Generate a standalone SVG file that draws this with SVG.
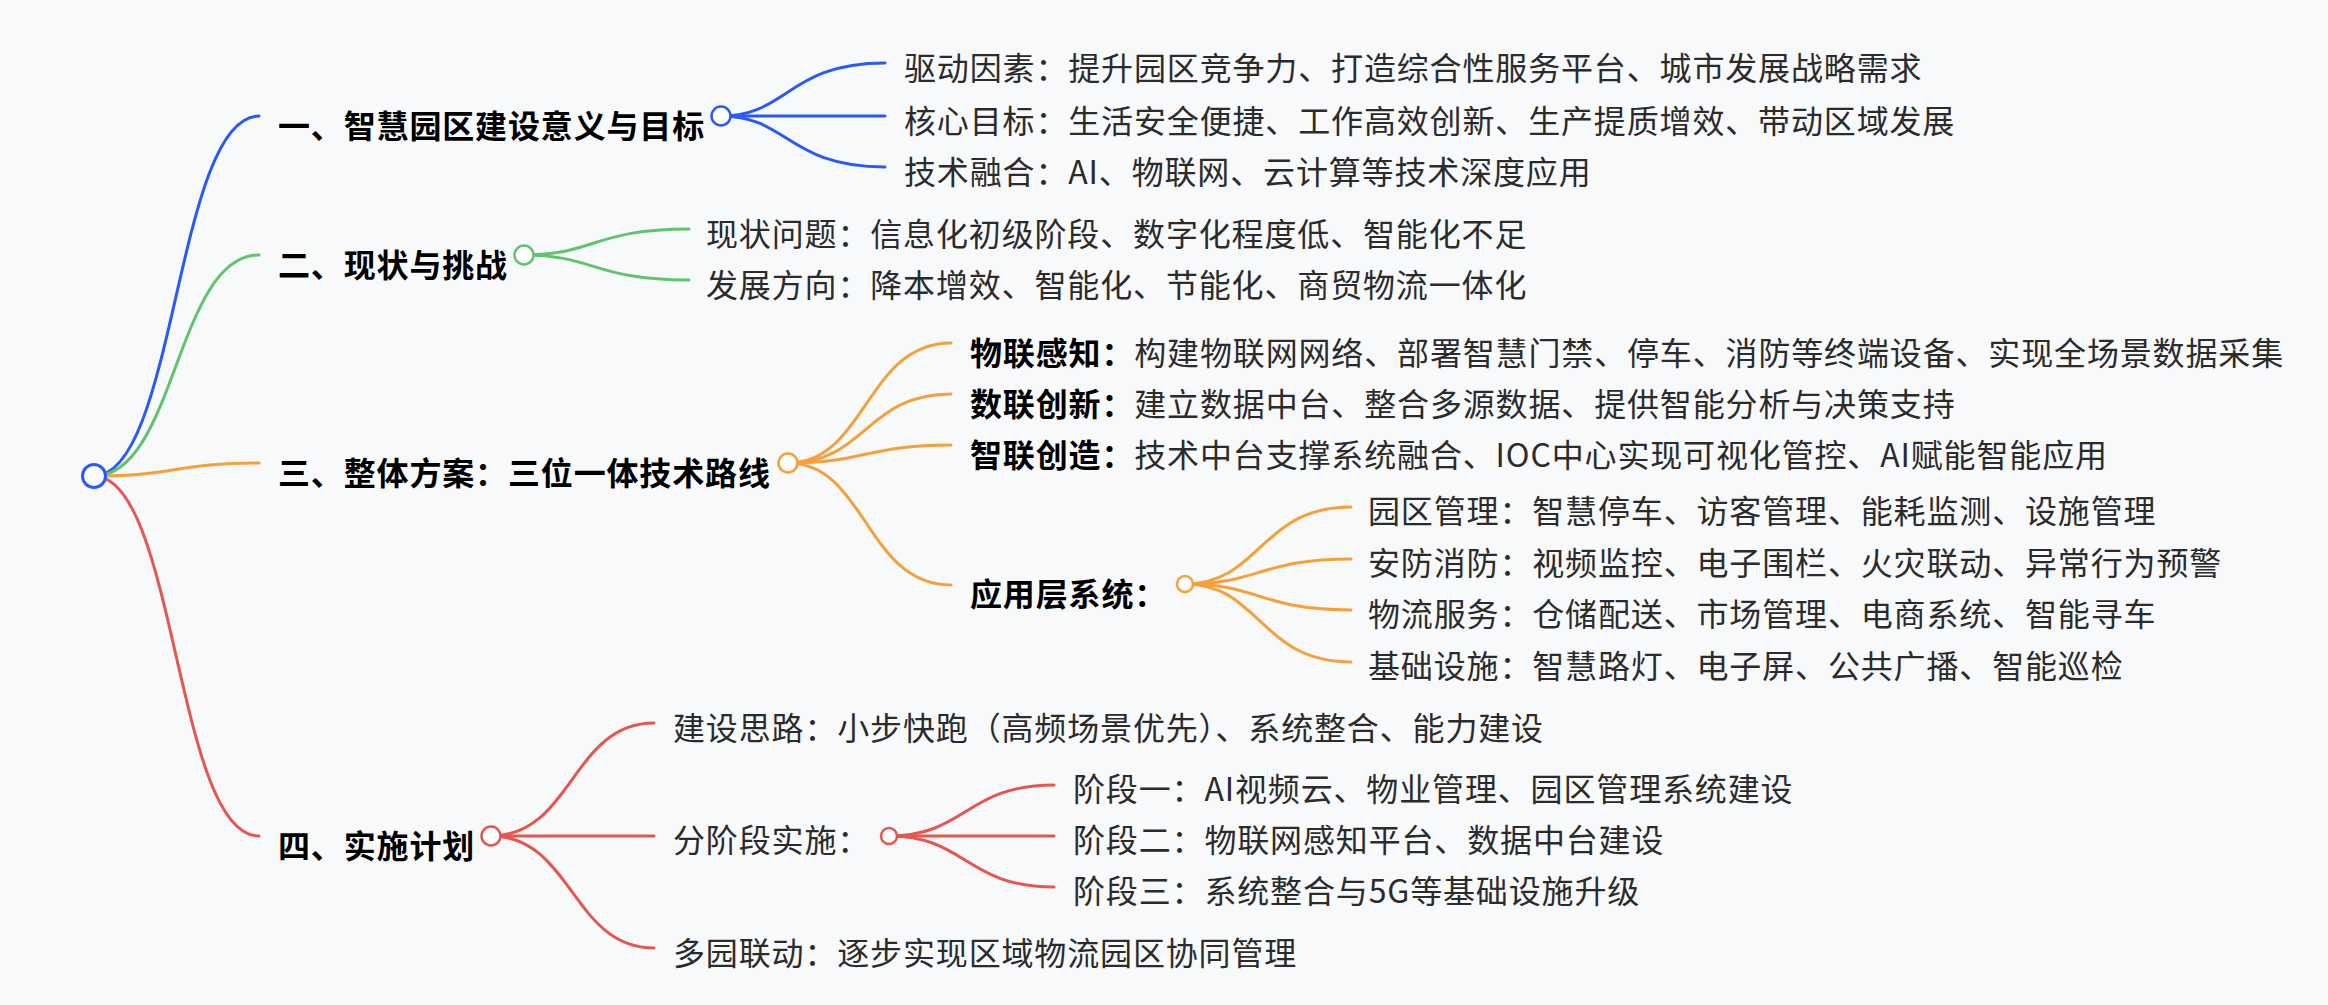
<svg xmlns="http://www.w3.org/2000/svg" width="2328" height="1005" viewBox="0 0 2328 1005">
<style>
text{font-family:"Noto Sans CJK SC","Noto Sans",sans-serif;font-size:32px;letter-spacing:0.85px;dominant-baseline:central}
.b{font-weight:700;fill:#000}
.n{font-weight:400;fill:#2b2b2b}
.lk{fill:none;stroke-width:3;stroke-linecap:round}
.blue{stroke:#2a5af5}.green{stroke:#5fc46c}.orange{stroke:#f5a03a}.red{stroke:#e5574d}
.dot{fill:#fff;stroke-width:2.5}
</style>
<rect width="2328" height="1005" fill="#f8f9fb"/>
<g id="connectors">
<path class="lk blue" d="M94 476 C176 476,176 116,259 116"/>
<path class="lk green" d="M94 476 C176 476,176 255,259 255"/>
<path class="lk orange" d="M94 476 C176 476,176 463,259 463"/>
<path class="lk red" d="M94 476 C176 476,176 836,259 836"/>
<path class="lk blue" d="M721 116 C788 116,788 63,885 63"/>
<path class="lk blue" d="M721 116 L885 116"/>
<path class="lk blue" d="M721 116 C788 116,788 167,885 167"/>
<path class="lk green" d="M524 255 C594 255,594 229,689 229"/>
<path class="lk green" d="M524 255 C594 255,594 280,689 280"/>
<path class="lk orange" d="M788 463 C866 463,866 343,951 343"/>
<path class="lk orange" d="M788 463 C866 463,866 394,951 394"/>
<path class="lk orange" d="M788 463 C866 463,866 445,951 445"/>
<path class="lk orange" d="M788 463 C866 463,866 585,951 585"/>
<path class="lk orange" d="M1185 584 C1260 584,1260 507,1351 507"/>
<path class="lk orange" d="M1185 584 C1260 584,1260 559,1351 559"/>
<path class="lk orange" d="M1185 584 C1260 584,1260 610,1351 610"/>
<path class="lk orange" d="M1185 584 C1260 584,1260 662,1351 662"/>
<path class="lk red" d="M491 836 C572 836,572 723,654 723"/>
<path class="lk red" d="M491 836 L654 836"/>
<path class="lk red" d="M491 836 C572 836,572 948,654 948"/>
<path class="lk red" d="M889 836 C966 836,966 785,1054 785"/>
<path class="lk red" d="M889 836 L1054 836"/>
<path class="lk red" d="M889 836 C966 836,966 887,1054 887"/>
</g>
<g id="root"><circle class="dot blue" cx="94" cy="476" r="11.5" style="stroke-width:3"/></g>
<g id="n1"><text class="b" x="278" y="124">一、智慧园区建设意义与目标</text><circle class="dot blue" cx="721" cy="116" r="9.5"/></g>
<g id="n1-1"><text class="n" x="904" y="66">驱动因素：提升园区竞争力、打造综合性服务平台、城市发展战略需求</text></g>
<g id="n1-2"><text class="n" x="904" y="119">核心目标：生活安全便捷、工作高效创新、生产提质增效、带动区域发展</text></g>
<g id="n1-3"><text class="n" x="904" y="170">技术融合：AI、物联网、云计算等技术深度应用</text></g>
<g id="n2"><text class="b" x="278" y="263">二、现状与挑战</text><circle class="dot green" cx="524" cy="255" r="9.5"/></g>
<g id="n2-1"><text class="n" x="706" y="232">现状问题：信息化初级阶段、数字化程度低、智能化不足</text></g>
<g id="n2-2"><text class="n" x="706" y="283">发展方向：降本增效、智能化、节能化、商贸物流一体化</text></g>
<g id="n3"><text class="b" x="278" y="471">三、整体方案：三位一体技术路线</text><circle class="dot orange" cx="788" cy="463" r="9.5"/></g>
<g id="n3-1"><text x="970" y="351"><tspan class="b">物联感知：</tspan><tspan class="n">构建物联网网络、部署智慧门禁、停车、消防等终端设备、实现全场景数据采集</tspan></text></g>
<g id="n3-2"><text x="970" y="402"><tspan class="b">数联创新：</tspan><tspan class="n">建立数据中台、整合多源数据、提供智能分析与决策支持</tspan></text></g>
<g id="n3-3"><text x="970" y="453"><tspan class="b">智联创造：</tspan><tspan class="n">技术中台支撑系统融合、IOC中心实现可视化管控、AI赋能智能应用</tspan></text></g>
<g id="n3-4"><text class="b" x="970" y="592">应用层系统：</text><circle class="dot orange" cx="1185" cy="584" r="8"/></g>
<g id="n3-4-1"><text class="n" x="1368" y="509">园区管理：智慧停车、访客管理、能耗监测、设施管理</text></g>
<g id="n3-4-2"><text class="n" x="1368" y="561">安防消防：视频监控、电子围栏、火灾联动、异常行为预警</text></g>
<g id="n3-4-3"><text class="n" x="1368" y="612">物流服务：仓储配送、市场管理、电商系统、智能寻车</text></g>
<g id="n3-4-4"><text class="n" x="1368" y="664">基础设施：智慧路灯、电子屏、公共广播、智能巡检</text></g>
<g id="n4"><text class="b" x="278" y="844">四、实施计划</text><circle class="dot red" cx="491" cy="836" r="9.5"/></g>
<g id="n4-1"><text class="n" x="673" y="726">建设思路：小步快跑（高频场景优先）、系统整合、能力建设</text></g>
<g id="n4-2"><text class="n" x="673" y="838">分阶段实施：</text><circle class="dot red" cx="889" cy="836" r="8"/></g>
<g id="n4-2-1"><text class="n" x="1073" y="787">阶段一：AI视频云、物业管理、园区管理系统建设</text></g>
<g id="n4-2-2"><text class="n" x="1073" y="838">阶段二：物联网感知平台、数据中台建设</text></g>
<g id="n4-2-3"><text class="n" x="1073" y="889">阶段三：系统整合与5G等基础设施升级</text></g>
<g id="n4-3"><text class="n" x="673" y="951">多园联动：逐步实现区域物流园区协同管理</text></g>
</svg>
